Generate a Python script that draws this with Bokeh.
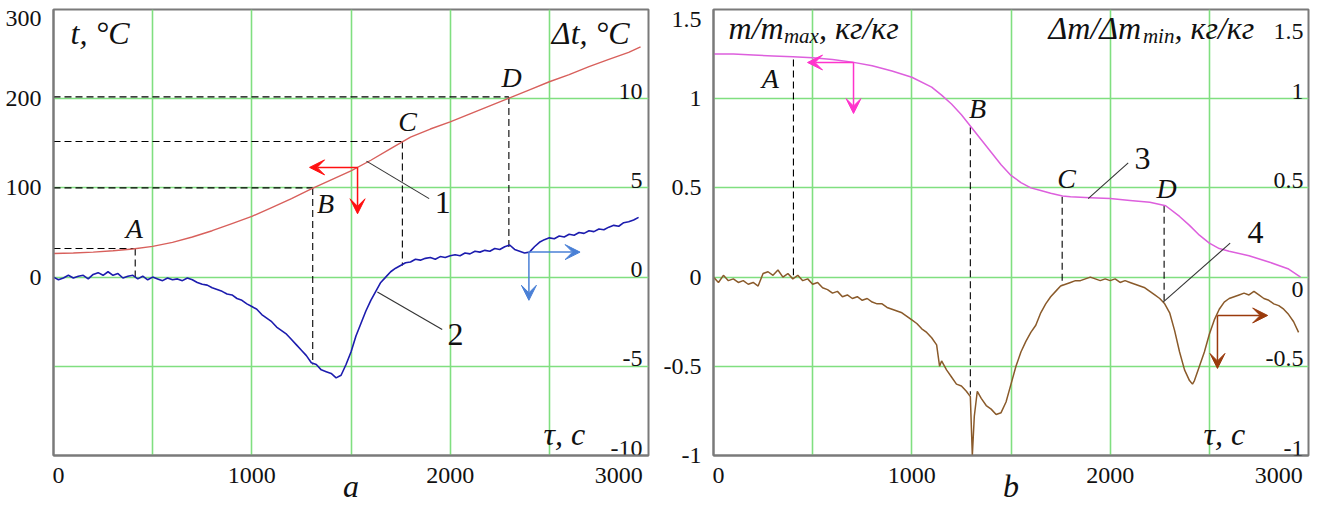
from bokeh.plotting import figure
from bokeh.layouts import row
from bokeh.models import Range1d, FixedTicker, Label, Arrow, VeeHead
from bokeh.core.properties import value
from bokeh.embed import file_html
from bokeh.resources import INLINE

SERIF = "Liberation Serif"

# ---------------- data: panel a ----------------
tau_t = [0, 100, 200, 300, 400, 500, 600, 700, 800, 900, 1000, 1100, 1200, 1300, 1400,
         1500, 1600, 1700, 1800, 1900, 2000, 2100, 2200, 2300, 2400, 2500, 2600, 2700,
         2800, 2900, 2960]
t_curve = [26.5, 27, 28, 29.5, 31.5, 34.5, 39, 45, 52, 60, 68, 78, 88, 99, 109,
           119, 131, 144, 157, 166, 174, 183, 192, 201, 210, 219, 227, 236,
           244, 252, 258]

tau_dt = [0, 25, 50, 75, 100, 125, 150, 175, 200, 225, 250, 275, 300, 325, 350, 375,
          400, 425, 450, 475, 500, 525, 550, 575, 600, 625, 650, 675, 700, 725, 750,
          775, 800, 825, 850, 875, 900, 925, 950, 975, 1000, 1025, 1050, 1075, 1100,
          1125, 1150, 1175, 1200, 1225, 1250, 1275, 1300, 1325, 1350, 1375, 1400,
          1425, 1450, 1475, 1500, 1525, 1550, 1575, 1600, 1625, 1650, 1675, 1700,
          1725, 1750, 1775, 1800, 1825, 1850, 1875, 1900, 1925, 1950, 1975, 2000,
          2025, 2050, 2075, 2100, 2125, 2150, 2175, 2200, 2225, 2250, 2275, 2300,
          2325, 2350, 2375, 2400, 2425, 2450, 2475, 2500, 2525, 2550, 2575, 2600,
          2625, 2650, 2675, 2700, 2725, 2750, 2775, 2800, 2825, 2850, 2875, 2900,
          2925, 2950]
dt_curve = [0.0, -0.15, -0.05, 0.1, -0.05, 0.05, 0.1, -0.1, 0.15, 0.25, 0.1, 0.3, 0.1,
            0.2, -0.05, 0.05, 0.1, -0.1, 0.05, -0.15, 0.0, -0.1, -0.2, -0.05, -0.15,
            -0.1, -0.2, -0.05, -0.15, -0.3, -0.4, -0.45, -0.6, -0.7, -0.8, -0.95,
            -1.0, -1.2, -1.3, -1.5, -1.65, -1.8, -2.1, -2.3, -2.5, -2.8, -3.0, -3.2,
            -3.5, -3.8, -4.1, -4.4, -4.8, -4.9, -5.2, -5.3, -5.4, -5.65, -5.5, -4.9,
            -4.2, -3.3, -2.6, -1.9, -1.3, -0.8, -0.3, 0.0, 0.3, 0.5, 0.65, 0.8, 0.85,
            1.0, 0.95, 1.05, 1.1, 1.0, 1.15, 1.1, 1.2, 1.25, 1.2, 1.35, 1.3, 1.45,
            1.4, 1.5, 1.45, 1.6, 1.55, 1.7, 1.8, 1.55, 1.45, 1.35, 1.4, 1.7, 1.95,
            2.1, 2.2, 2.15, 2.3, 2.25, 2.4, 2.35, 2.5, 2.45, 2.6, 2.55, 2.7, 2.65,
            2.8, 2.9, 2.85, 3.05, 3.1, 3.2, 3.35]

# characteristic points A, B, C, D (panel a)
pts_a_tau = [412, 1307, 1759, 2296]
pts_a_t = [32, 100, 152, 202]
pts_a_dt = [0.0, -4.9, 0.65, 1.65]
pts_names = ["A", "B", "C", "D"]

# ticks (panel a)
x_tick_labels = ["0", "1000", "2000", "3000"]
x_grid = [500, 1000, 1500, 2000, 2500]
t_tick_labels = ["0", "100", "200", "300"]
t_grid = [-100, 0, 100, 200]
dt_ticks = [10, 5, 0, -5, -10]

# ---------------- data: panel b ----------------
tau_m = [0, 100, 200, 300, 400, 500, 600, 700, 800, 900, 1000, 1100, 1150, 1200, 1250,
         1300, 1350, 1400, 1450, 1500, 1550, 1600, 1650, 1700, 1760, 1800, 1900, 2000,
         2100, 2200, 2280, 2350, 2400, 2450, 2500, 2550, 2600, 2700, 2800, 2900, 2960]
m_curve = [1.25, 1.25, 1.245, 1.24, 1.235, 1.23, 1.22, 1.205, 1.185, 1.155, 1.12, 1.065,
           1.02, 0.97, 0.91, 0.84, 0.77, 0.70, 0.63, 0.57, 0.53, 0.50, 0.485, 0.47,
           0.455, 0.45, 0.445, 0.44, 0.43, 0.42, 0.40, 0.34, 0.29, 0.235, 0.19, 0.16,
           0.145, 0.12, 0.085, 0.045, 0.0]

tau_dm = [0, 25, 50, 75, 100, 125, 150, 175, 200, 225, 250, 275, 300, 325, 350, 375,
          400, 425, 450, 475, 500, 525, 550, 575, 600, 625, 650, 675, 700, 725, 750,
          775, 800, 825, 850, 875, 900, 925, 950, 975, 1000, 1025, 1050, 1075, 1100,
          1125, 1140, 1150, 1175, 1200, 1225, 1250, 1275, 1295, 1305, 1315, 1330,
          1350, 1375, 1400, 1425, 1450, 1475, 1500, 1525, 1550, 1575, 1600, 1625,
          1650, 1675, 1700, 1725, 1750, 1775, 1800, 1825, 1850, 1875, 1900, 1925,
          1950, 1975, 2000, 2025, 2050, 2075, 2100, 2125, 2150, 2175, 2200, 2225,
          2250, 2275, 2300, 2325, 2350, 2375, 2400, 2415, 2425, 2450, 2475, 2500,
          2525, 2550, 2575, 2600, 2625, 2650, 2675, 2700, 2725, 2750, 2775, 2800,
          2825, 2850, 2875, 2900, 2925, 2950]
dm_curve = [0.0, -0.03, 0.01, -0.02, -0.01, -0.03, -0.02, -0.04, -0.03, -0.05, 0.02,
            0.03, 0.01, 0.04, 0.0, 0.02, -0.01, 0.01, -0.02, -0.01, -0.04, -0.03,
            -0.06, -0.07, -0.09, -0.08, -0.11, -0.1, -0.12, -0.11, -0.13, -0.12,
            -0.14, -0.15, -0.15, -0.17, -0.18, -0.19, -0.2, -0.22, -0.24, -0.26,
            -0.29, -0.31, -0.34, -0.38, -0.5, -0.47, -0.52, -0.56, -0.6, -0.61,
            -0.64, -0.67, -1.0, -0.78, -0.64, -0.68, -0.72, -0.74, -0.77, -0.76,
            -0.7, -0.6, -0.5, -0.42, -0.36, -0.31, -0.27, -0.2, -0.15, -0.11, -0.08,
            -0.05, -0.04, -0.03, -0.02, -0.02, -0.01, 0.0, -0.01, -0.02, -0.01,
            -0.02, -0.01, -0.03, -0.02, -0.03, -0.04, -0.05, -0.06, -0.08, -0.1,
            -0.12, -0.15, -0.2, -0.3, -0.42, -0.52, -0.58, -0.6, -0.58, -0.5, -0.42,
            -0.32, -0.24, -0.18, -0.14, -0.12, -0.11, -0.1, -0.09, -0.1, -0.08, -0.1,
            -0.12, -0.13, -0.15, -0.16, -0.18, -0.21, -0.25, -0.31]

pts_b_tau = [403, 1295, 1758, 2272]
pts_b_m = [1.22, 0.84, 0.45, 0.40]
pts_b_dm = [0.01, -0.66, -0.045, -0.14]

m_tick_labels = ["-1", "-0.5", "0", "0.5", "1", "1.5"]
m_grid = [-0.5, 0, 0.5, 1]
dm_ticks = ["1.5", "1", "0.5", "0", "-0.5", "-1"]

GRID = "#80df80"
FRAME = "#7a7a7a"
TXT = "#111111"


def base_fig(width, y0, y1, x_tick_pos, y_tick_pos, y_labels, panel_letter):
    p = figure(width=width, height=506, x_range=Range1d(0, 3000), y_range=Range1d(y0, y1),
               output_backend="svg", toolbar_location=None,
               min_border_left=53, min_border_right=width - 53 - 595,
               min_border_top=9, min_border_bottom=51)
    p.background_fill_color = "white"
    p.border_fill_color = "white"
    p.outline_line_color = FRAME
    p.outline_line_width = 2
    p.xgrid.ticker = FixedTicker(ticks=x_grid)
    for g in (p.xgrid, p.ygrid):
        g.grid_line_color = GRID
        g.grid_line_width = 1.6
    for ax in (p.xaxis, p.yaxis):
        ax.axis_line_color = FRAME
        ax.axis_line_width = 2
        ax.major_tick_line_color = None
        ax.minor_tick_line_color = None
        ax.major_label_text_font = SERIF
        ax.major_label_text_font_size = "24px"
        ax.major_label_text_color = TXT
        ax.major_label_standoff = 6
    # end labels are nudged inwards, as in the original figure
    p.xaxis.ticker = FixedTicker(ticks=x_tick_pos)
    p.xaxis.major_label_overrides = dict(zip(x_tick_pos, x_tick_labels))
    p.yaxis.ticker = FixedTicker(ticks=y_tick_pos)
    p.yaxis.major_label_overrides = dict(zip(y_tick_pos, y_labels))
    p.xaxis.axis_label = panel_letter
    p.xaxis.axis_label_text_font = SERIF
    p.xaxis.axis_label_text_font_style = "italic"
    p.xaxis.axis_label_text_font_size = "32px"
    p.xaxis.axis_label_text_color = TXT
    p.xaxis.axis_label_standoff = -18
    return p


def lab(p, x, y, text, size, italic=False, align="left", baseline="middle", **kw):
    p.add_layout(Label(x=x, y=y, text=text, text_font=SERIF, text_font_size=size,
                       text_font_style="italic" if italic else "normal",
                       text_color=TXT, text_align=align, text_baseline=baseline, **kw))


# ======================= panel a =======================
pa = base_fig(660, -200, 300, [25, 1000, 2000, 2850], [0, 100, 200, 290], t_tick_labels, "a")
pa.extra_y_ranges = {"dt": Range1d(-10, 15)}
pa.ygrid.ticker = FixedTicker(ticks=t_grid)

# right-side inner tick labels (Δt)
pa.text(x=[2970] * len(dt_ticks), y=dt_ticks, text=[str(v) for v in dt_ticks],
        y_range_name="dt", text_align="right", text_baseline="bottom",
        text_font=value(SERIF), text_font_size="24px", text_color=TXT)

# dashed guide lines
pa.segment(x0=[0] * 4, y0=pts_a_t, x1=pts_a_tau, y1=pts_a_t,
           line_color="black", line_dash="7 4", line_width=1.1)
pa.segment(x0=pts_a_tau, y0=pts_a_t, x1=pts_a_tau, y1=[v * 20 for v in pts_a_dt],
           line_color="black", line_dash="7 4", line_width=1.1)

# curves
pa.line(tau_t, t_curve, line_color="#d8605c", line_width=1.4)
pa.line(tau_dt, dt_curve, y_range_name="dt", line_color="#1c1cae", line_width=1.6)

# leader lines
pa.line([1578, 1894], [130, 88], line_color="#333333", line_width=1.1)
pa.line([1633, 1960], [-0.83, -2.94], y_range_name="dt", line_color="#333333", line_width=1.1)

# arrows (axis assignment)
for xe, ye in ((1291, 123), (1533, 71)):
    pa.add_layout(Arrow(end=VeeHead(size=15, fill_color="#ff1010", line_color="#ff1010"),
                        x_start=1533, y_start=123, x_end=xe, y_end=ye,
                        line_color="#ff1010", line_width=1.5))
for xe, ye in ((2655, 1.4), (2397, -1.3)):
    pa.add_layout(Arrow(end=VeeHead(size=15, fill_color="#4a80d6", line_color="#4a80d6"),
                        x_start=2397, y_start=1.4, x_end=xe, y_end=ye, y_range_name="dt",
                        line_color="#4a80d6", line_width=1.5))

# texts
lab(pa, 86, 274, "t, °C", "32px", italic=True)
lab(pa, 2905, 274, "Δt, °C", "32px", italic=True, align="right")
lab(pa, 2471, -176, "τ, с", "32px", italic=True)
for nm, x, y in zip(pts_names, [408, 1372, 1785, 2310], [54, 82, 174, 224]):
    lab(pa, x, y, nm, "28px", italic=True, align="center")
lab(pa, 1962, 84, "1", "32px", align="center")
lab(pa, 2027, -64, "2", "32px", align="center")

# ======================= panel b =======================
pb = base_fig(654, -1, 1.5, [25, 1000, 2000, 2850], [-1, -0.5, 0, 0.5, 1, 1.444],
              m_tick_labels, "b")
pb.extra_y_ranges = {"dm": Range1d(-1, 1.5)}
pb.ygrid.ticker = FixedTicker(ticks=m_grid)

# right-side inner tick labels (Δm/Δm_min)
for v, yy, bl in zip(dm_ticks, [1.335, 1.0, 0.5, -0.025, -0.5, -1.0],
                     ["bottom", "bottom", "bottom", "top", "bottom", "bottom"]):
    lab(pb, 2975, yy, v, "24px", align="right", baseline=bl, y_range_name="dm")

pb.segment(x0=pts_b_tau, y0=pts_b_m, x1=pts_b_tau, y1=pts_b_dm,
           line_color="black", line_dash="7 4", line_width=1.1)

pb.line(tau_m, m_curve, line_color="#dd5fdd", line_width=1.5)
pb.line(tau_dm, dm_curve, y_range_name="dm", line_color="#8a5a2a", line_width=1.5)

pb.line([1889, 2091], [0.44, 0.64], line_color="#333333", line_width=1.1)
pb.line([2267, 2605], [-0.14, 0.19], line_color="#333333", line_width=1.1)

for xe, ye in ((474, 1.203), (706, 0.917)):
    pb.add_layout(Arrow(end=VeeHead(size=15, fill_color="#ff33cc", line_color="#ff33cc"),
                        x_start=706, y_start=1.203, x_end=xe, y_end=ye,
                        line_color="#ff33cc", line_width=1.5))
for xe, ye in ((2794, -0.215), (2541, -0.512)):
    pb.add_layout(Arrow(end=VeeHead(size=15, fill_color="#9a3a0c", line_color="#9a3a0c"),
                        x_start=2541, y_start=-0.215, x_end=xe, y_end=ye, y_range_name="dm",
                        line_color="#9a3a0c", line_width=1.5))

lab(pb, 76, 1.399, "m/m", "32px", italic=True)
lab(pb, 355, 1.35, "max", "21px", italic=True)
lab(pb, 532, 1.399, ", кг/кг", "32px", italic=True)
lab(pb, 1689, 1.399, "Δm/Δm", "32px", italic=True)
lab(pb, 2165, 1.35, "min", "21px", italic=True)
lab(pb, 2324, 1.399, ", кг/кг", "32px", italic=True)
lab(pb, 2471, -0.882, "τ, с", "32px", italic=True)
for nm, x, y in zip(pts_names, [287, 1331, 1780, 2284], [1.113, 0.945, 0.553, 0.497]):
    lab(pb, x, y, nm, "28px", italic=True, align="center")
lab(pb, 2163, 0.665, "3", "32px", align="center")
lab(pb, 2733, 0.25, "4", "32px", align="center")

layout = row(pa, pb, spacing=0)
open("out.html", "w").write(file_html(layout, INLINE))
